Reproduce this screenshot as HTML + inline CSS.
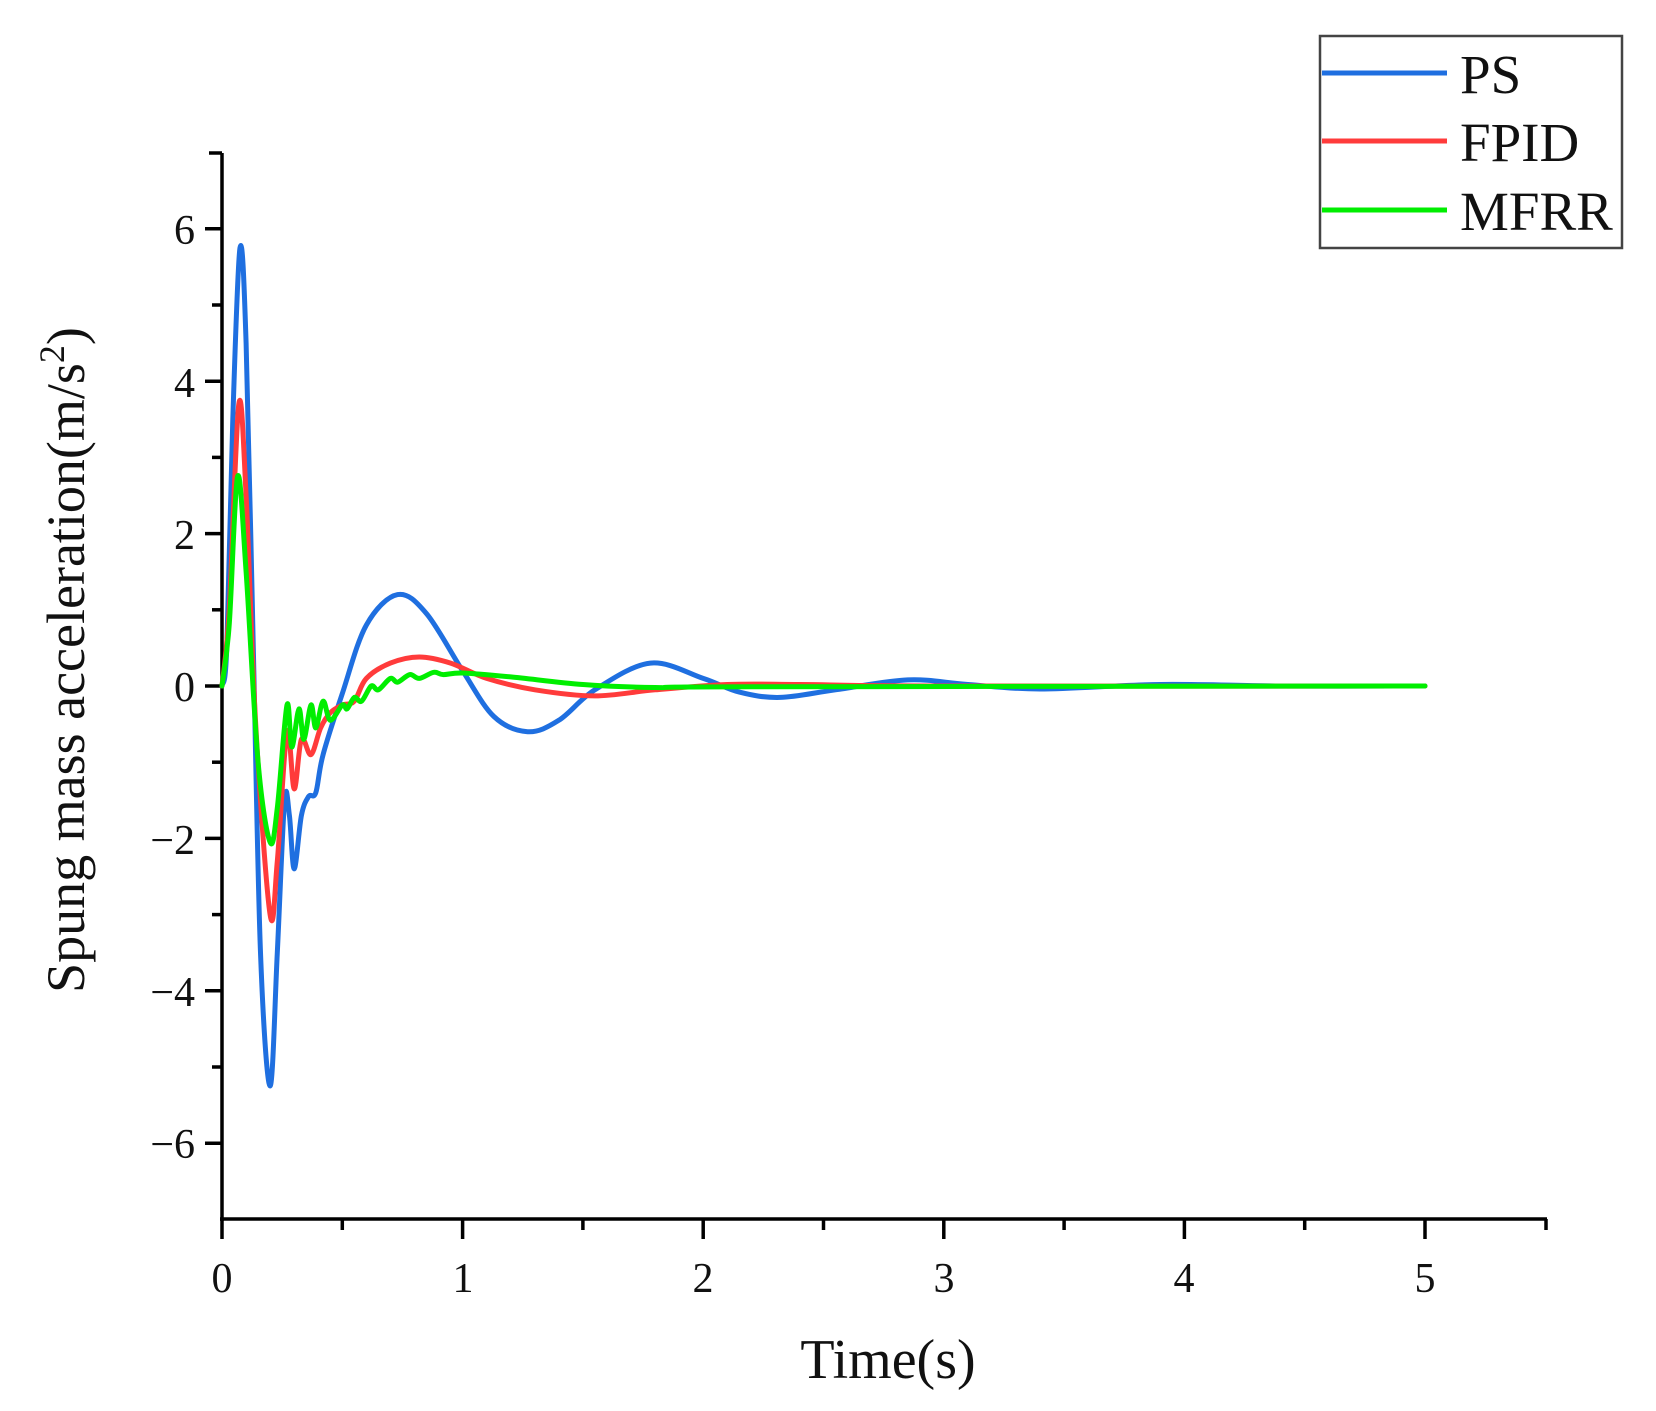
<!DOCTYPE html>
<html><head><meta charset="utf-8">
<style>
html,body{margin:0;padding:0;background:#fff;}
svg{display:block;font-family:"Liberation Serif",serif;}
</style></head>
<body>
<svg id="s" width="1656" height="1411" viewBox="0 0 1656 1411" xmlns="http://www.w3.org/2000/svg">
<rect width="1656" height="1411" fill="#fff"/>
<g id="ax" stroke="#000" stroke-width="3.5" fill="none">
<line x1="222" y1="153" x2="222" y2="1221"/>
<line x1="220" y1="1219" x2="1547" y2="1219"/>
<line x1="209" y1="153" x2="222" y2="153"/>
<line x1="1546" y1="1219" x2="1546" y2="1230"/>
</g>
<g id="ticks" stroke="#000" stroke-width="3.5"></g>
<g font-size="42" fill="#111" text-anchor="end">
<text x="195" y="244">6</text>
<text x="195" y="397">4</text>
<text x="195" y="549">2</text>
<text x="195" y="701">0</text>
<text x="195" y="854">−2</text>
<text x="195" y="1006">−4</text>
<text x="195" y="1158">−6</text>
</g>
<g font-size="42" fill="#111" text-anchor="middle">
<text x="222" y="1292">0</text>
<text x="463" y="1292">1</text>
<text x="703" y="1292">2</text>
<text x="944" y="1292">3</text>
<text x="1184" y="1292">4</text>
<text x="1425" y="1292">5</text>
</g>
<text x="888" y="1378" font-size="56" text-anchor="middle" fill="#111">Time(s)</text>
<text transform="translate(84,660) rotate(-90)" font-size="54" text-anchor="middle" fill="#111">Spung mass acceleration(m/s<tspan dy="-20" font-size="36">2</tspan><tspan dy="20">)</tspan></text>
<g id="curves" fill="none" stroke-width="5" stroke-linejoin="round" stroke-linecap="round"></g>
<rect x="1320" y="36" width="302" height="212" fill="#fff" stroke="#444" stroke-width="2.5"/>
<line x1="1322" y1="73" x2="1447" y2="73" stroke="#1f6fe0" stroke-width="5"/>
<line x1="1322" y1="141" x2="1447" y2="141" stroke="#ff3b3b" stroke-width="5"/>
<line x1="1322" y1="210" x2="1447" y2="210" stroke="#00ee00" stroke-width="5"/>
<g font-size="55" fill="#111">
<text x="1460" y="93">PS</text>
<text x="1460" y="161">FPID</text>
<text x="1460" y="230">MFRR</text>
</g>
</svg>
<script>
var X=function(t){return 222+t*240.6;},Y=function(v){return 686-v*76.2;};
var NS="http://www.w3.org/2000/svg";
var tk=document.getElementById("ticks");
function ln(x1,y1,x2,y2){var l=document.createElementNS(NS,"line");l.setAttribute("x1",x1);l.setAttribute("y1",y1);l.setAttribute("x2",x2);l.setAttribute("y2",y2);tk.appendChild(l);}
for(var v=-6;v<=6;v++){ln(v%2==0?205:212,Y(v),222,Y(v));}
for(var t=0;t<=5.01;t+=0.5){var maj=Math.abs(t-Math.round(t))<0.01;ln(X(t),1219,X(t),maj?1239:1230);}
var data={
"#1f6fe0":[[0,0],[0.02,0.5],[0.045,3.5],[0.075,5.75],[0.1,4.5],[0.13,0.5],[0.16,-3.5],[0.2,-5.25],[0.23,-3.5],[0.26,-1.5],[0.28,-1.7],[0.3,-2.4],[0.33,-1.7],[0.36,-1.45],[0.39,-1.4],[0.42,-0.9],[0.5,-0.1],[0.6,0.8],[0.73,1.2],[0.85,0.95],[1.0,0.2],[1.13,-0.4],[1.27,-0.6],[1.4,-0.45],[1.55,-0.05],[1.78,0.3],[2.0,0.1],[2.15,-0.08],[2.32,-0.15],[2.55,-0.05],[2.85,0.08],[3.1,0.02],[3.4,-0.04],[3.9,0.02],[4.4,0],[5,0]],
"#ff3b3b":[[0,0],[0.03,1],[0.07,3.7],[0.1,2.5],[0.14,-0.5],[0.2,-3.0],[0.23,-2.3],[0.27,-0.6],[0.3,-1.35],[0.33,-0.7],[0.37,-0.9],[0.41,-0.55],[0.45,-0.35],[0.5,-0.25],[0.55,-0.2],[0.6,0.1],[0.7,0.3],[0.82,0.38],[0.95,0.3],[1.1,0.1],[1.3,-0.05],[1.55,-0.13],[1.8,-0.05],[2.1,0.02],[2.4,0.02],[3,0],[5,0]],
"#00ee00":[[0,0],[0.03,0.8],[0.065,2.75],[0.1,1.5],[0.15,-1.0],[0.2,-2.05],[0.23,-1.6],[0.27,-0.25],[0.29,-0.8],[0.32,-0.3],[0.34,-0.7],[0.37,-0.25],[0.39,-0.55],[0.42,-0.2],[0.45,-0.45],[0.5,-0.25],[0.52,-0.3],[0.55,-0.15],[0.58,-0.2],[0.62,0],[0.65,-0.05],[0.7,0.1],[0.73,0.05],[0.78,0.15],[0.82,0.1],[0.88,0.18],[0.92,0.15],[1.0,0.17],[1.2,0.12],[1.5,0.02],[1.8,-0.02],[2.2,-0.01],[5,0]]
};
var cg=document.getElementById("curves");
["#1f6fe0","#ff3b3b","#00ee00"].forEach(function(c){
 var p=data[c].map(function(a){return [X(a[0]),Y(a[1])];});
 var d="M"+p[0][0]+","+p[0][1];
 for(var i=0;i<p.length-1;i++){
  var p0=p[Math.max(i-1,0)],p1=p[i],p2=p[i+1],p3=p[Math.min(i+2,p.length-1)];
  var c1=[p1[0]+(p2[0]-p0[0])/6,p1[1]+(p2[1]-p0[1])/6],c2=[p2[0]-(p3[0]-p1[0])/6,p2[1]-(p3[1]-p1[1])/6];
  d+="C"+c1[0].toFixed(1)+","+c1[1].toFixed(1)+" "+c2[0].toFixed(1)+","+c2[1].toFixed(1)+" "+p2[0].toFixed(1)+","+p2[1].toFixed(1);
 }
 var e=document.createElementNS(NS,"path");e.setAttribute("d",d);e.setAttribute("stroke",c);cg.appendChild(e);
});
</script>
</body></html>
